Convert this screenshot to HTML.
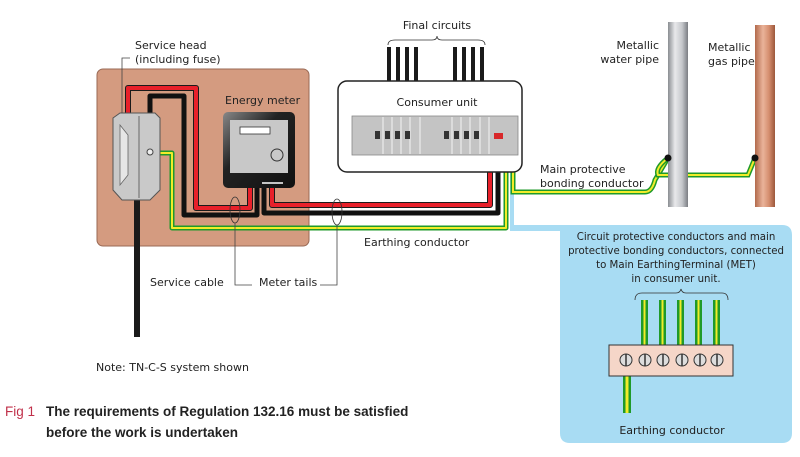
<!DOCTYPE html>
<html><head><meta charset="utf-8"><style>
body{margin:0;background:#fff;}
svg{display:block;font-family:"DejaVu Sans","Liberation Sans",sans-serif;}
</style></head><body>
<svg width="800" height="457" viewBox="0 0 800 457" xmlns="http://www.w3.org/2000/svg">
<defs>
<linearGradient id="wp" x1="0" x2="1"><stop offset="0" stop-color="#8a8d92"/><stop offset="0.35" stop-color="#e8e9eb"/><stop offset="0.7" stop-color="#c6c8cc"/><stop offset="1" stop-color="#7b7e83"/></linearGradient>
<linearGradient id="gp" x1="0" x2="1"><stop offset="0" stop-color="#b26a4c"/><stop offset="0.4" stop-color="#eab39a"/><stop offset="0.7" stop-color="#d58e6f"/><stop offset="1" stop-color="#9c573b"/></linearGradient>
<linearGradient id="mt" x1="0" y1="0" x2="1" y2="1"><stop offset="0" stop-color="#888"/><stop offset="0.4" stop-color="#222"/><stop offset="1" stop-color="#111"/></linearGradient>
</defs>
<path d="M510 170 H514 V225 H782 Q792 225 792 235 V433 Q792 443 782 443 H570 Q560 443 560 433 V231 H510 Z" fill="#a8dcf3"/>
<rect x="97" y="69" width="212" height="177" rx="6" fill="#d49b80" stroke="#9a6a55" stroke-width="1"/>
<rect x="134" y="195" width="6" height="142" fill="#1a1a1a"/>
<path d="M128 118 V88 H196 V208 H250 V186" fill="none" stroke="#1a1a1a" stroke-width="6" stroke-linejoin="round"/>
<path d="M128 118 V88 H196 V208 H250 V186" fill="none" stroke="#e8202a" stroke-width="4" stroke-linejoin="round"/>
<path d="M150 118 V96 H184 V215 H257 V186" fill="none" stroke="#111" stroke-width="5" stroke-linejoin="round"/>
<path d="M272 186 V205 H490 V165" fill="none" stroke="#1a1a1a" stroke-width="6" stroke-linejoin="round"/>
<path d="M272 186 V205 H490 V165" fill="none" stroke="#e8202a" stroke-width="4" stroke-linejoin="round"/>
<path d="M264 186 V213 H498 V165" fill="none" stroke="#111" stroke-width="5" stroke-linejoin="round"/>
<path d="M160 153 H172 V228 H506 V165" fill="none" stroke="#1f9a2a" stroke-width="5" stroke-linejoin="round"/>
<path d="M160 153 H172 V228 H506 V165" fill="none" stroke="#f2ec2a" stroke-width="2" stroke-linejoin="round"/>
<path d="M513 165 V192 H645 Q652 192 655 180 L668 158" fill="none" stroke="#1f9a2a" stroke-width="5"/>
<path d="M513 165 V192 H645 Q652 192 655 180 L668 158" fill="none" stroke="#f2ec2a" stroke-width="2"/>
<path d="M668 158 Q655 168 658 175 H748 L755 158" fill="none" stroke="#1f9a2a" stroke-width="5"/>
<path d="M668 158 Q655 168 658 175 H748 L755 158" fill="none" stroke="#f2ec2a" stroke-width="2"/>
<rect x="668" y="22" width="20" height="185" fill="url(#wp)"/>
<rect x="755" y="25" width="20" height="182" fill="url(#gp)"/>
<circle cx="668" cy="158" r="3.5" fill="#111"/>
<circle cx="755" cy="158" r="3.5" fill="#111"/>
<path d="M113 118 L120 113 H155 L160 118 V190 L150 200 H122 L113 190 Z" fill="#c9c9c9" stroke="#555" stroke-width="1"/>
<path d="M120 125 L128 135 V175 L120 185 Z" fill="#e6e6e6" stroke="#666" stroke-width="0.8"/>
<line x1="139" y1="116" x2="139" y2="198" stroke="#666"/>
<circle cx="150" cy="152" r="3" fill="#eee" stroke="#444"/>
<rect x="223" y="112" width="72" height="76" rx="5" fill="url(#mt)"/>
<rect x="230" y="120" width="58" height="53" fill="#c8c8c8"/>
<rect x="240" y="127" width="30" height="7" fill="#fff" stroke="#333" stroke-width="0.8"/>
<circle cx="277" cy="155" r="6" fill="none" stroke="#333"/>
<line x1="262" y1="183" x2="283" y2="183" stroke="#fff" stroke-width="1.5"/>
<g fill="#1a1a1a"><rect x="387" y="47" width="4" height="37"/><rect x="396" y="47" width="4" height="37"/><rect x="405" y="47" width="4" height="37"/><rect x="414" y="47" width="4" height="37"/><rect x="453" y="47" width="4" height="37"/><rect x="462" y="47" width="4" height="37"/><rect x="471" y="47" width="4" height="37"/><rect x="480" y="47" width="4" height="37"/></g>
<rect x="338" y="81" width="184" height="91" rx="9" fill="#fff" stroke="#222" stroke-width="1.5"/>
<rect x="352" y="116" width="166" height="39" fill="#c4c4c4" stroke="#888" stroke-width="0.8"/>
<g stroke="#fff" stroke-width="0.8"><line x1="383" y1="117" x2="383" y2="154"/><line x1="392" y1="117" x2="392" y2="154"/><line x1="401" y1="117" x2="401" y2="154"/><line x1="410" y1="117" x2="410" y2="154"/><line x1="420" y1="117" x2="420" y2="154"/><line x1="452" y1="117" x2="452" y2="154"/><line x1="461" y1="117" x2="461" y2="154"/><line x1="470" y1="117" x2="470" y2="154"/><line x1="480" y1="117" x2="480" y2="154"/><line x1="489" y1="117" x2="489" y2="154"/></g>
<g fill="#333"><rect x="375" y="131" width="5" height="8"/><rect x="385" y="131" width="5" height="8"/><rect x="395" y="131" width="5" height="8"/><rect x="405" y="131" width="5" height="8"/><rect x="444" y="131" width="5" height="8"/><rect x="454" y="131" width="5" height="8"/><rect x="464" y="131" width="5" height="8"/><rect x="474" y="131" width="5" height="8"/></g>
<rect x="494" y="133" width="9" height="6" fill="#d8282a"/>
<path d="M388 45 Q388 40 395 40 H432 Q437 40 437 36 Q437 40 442 40 H478 Q485 40 485 45" fill="none" stroke="#333" stroke-width="0.8"/>
<ellipse cx="235" cy="210" rx="5" ry="13" fill="none" stroke="#333" stroke-width="0.8"/>
<ellipse cx="337" cy="212" rx="5" ry="13" fill="none" stroke="#333" stroke-width="0.8"/>
<path d="M235 223 V285 H252 M337 225 V285 H320" fill="none" stroke="#444" stroke-width="0.8"/>
<path d="M130 58 H122 V113" fill="none" stroke="#444" stroke-width="0.8"/>
<path d="M635 300 Q635 293 642 293 H676 Q680 293 681 289 Q682 293 686 293 H722 Q728 293 728 300" fill="none" stroke="#333" stroke-width="0.8"/>
<g><rect x="641" y="300" width="7" height="46" fill="#1f9a2a"/><rect x="643.5" y="300" width="2" height="46" fill="#f2ec2a"/>
<rect x="659" y="300" width="7" height="46" fill="#1f9a2a"/><rect x="661.5" y="300" width="2" height="46" fill="#f2ec2a"/>
<rect x="677" y="300" width="7" height="46" fill="#1f9a2a"/><rect x="679.5" y="300" width="2" height="46" fill="#f2ec2a"/>
<rect x="695" y="300" width="7" height="46" fill="#1f9a2a"/><rect x="697.5" y="300" width="2" height="46" fill="#f2ec2a"/>
<rect x="713" y="300" width="7" height="46" fill="#1f9a2a"/><rect x="715.5" y="300" width="2" height="46" fill="#f2ec2a"/>
<rect x="623" y="375" width="8" height="38" fill="#1f9a2a"/><rect x="625.5" y="375" width="3" height="38" fill="#f2ec2a"/></g>
<rect x="609" y="345" width="124" height="31" fill="#f5d6c8" stroke="#333"/>
<g fill="#ddd" stroke="#333"><circle cx="626" cy="360" r="6"/><circle cx="645" cy="360" r="6"/><circle cx="663" cy="360" r="6"/><circle cx="682" cy="360" r="6"/><circle cx="700" cy="360" r="6"/><circle cx="717" cy="360" r="6"/></g>
<g stroke="#333" stroke-width="1.5"><line x1="626" y1="354" x2="626" y2="366"/><line x1="645" y1="354" x2="645" y2="366"/><line x1="663" y1="354" x2="663" y2="366"/><line x1="682" y1="354" x2="682" y2="366"/><line x1="700" y1="354" x2="700" y2="366"/><line x1="717" y1="354" x2="717" y2="366"/></g>
<g font-size="11" fill="#222">
<text x="135" y="49">Service head</text>
<text x="135" y="63">(including fuse)</text>
<text x="225" y="104">Energy meter</text>
<text x="437" y="106" text-anchor="middle">Consumer unit</text>
<text x="437" y="29" text-anchor="middle">Final circuits</text>
<text x="659" y="49" text-anchor="end">Metallic</text>
<text x="659" y="63" text-anchor="end">water pipe</text>
<text x="708" y="51">Metallic</text>
<text x="708" y="65">gas pipe</text>
<text x="540" y="173">Main protective</text>
<text x="540" y="187">bonding conductor</text>
<text x="364" y="246">Earthing conductor</text>
<text x="150" y="286">Service cable</text>
<text x="259" y="286">Meter tails</text>
<text x="96" y="371">Note: TN-C-S system shown</text>
</g>
<g font-size="10.2" fill="#222">
<text x="676" y="240" text-anchor="middle">Circuit protective conductors and main</text>
<text x="676" y="254" text-anchor="middle">protective bonding conductors, connected</text>
<text x="676" y="268" text-anchor="middle">to Main EarthingTerminal (MET)</text>
<text x="676" y="282" text-anchor="middle">in consumer unit.</text>
<text x="672" y="434" font-size="11" text-anchor="middle">Earthing conductor</text>
</g>
<g font-family="Liberation Sans, sans-serif" font-size="13.5" font-weight="bold" fill="#222">
<text x="5" y="416"><tspan fill="#c0304a" font-weight="normal">Fig 1</tspan><tspan x="46">The requirements of Regulation 132.16 must be satisfied</tspan></text>
<text x="46" y="437">before the work is undertaken</text>
</g>
</svg>
</body></html>
